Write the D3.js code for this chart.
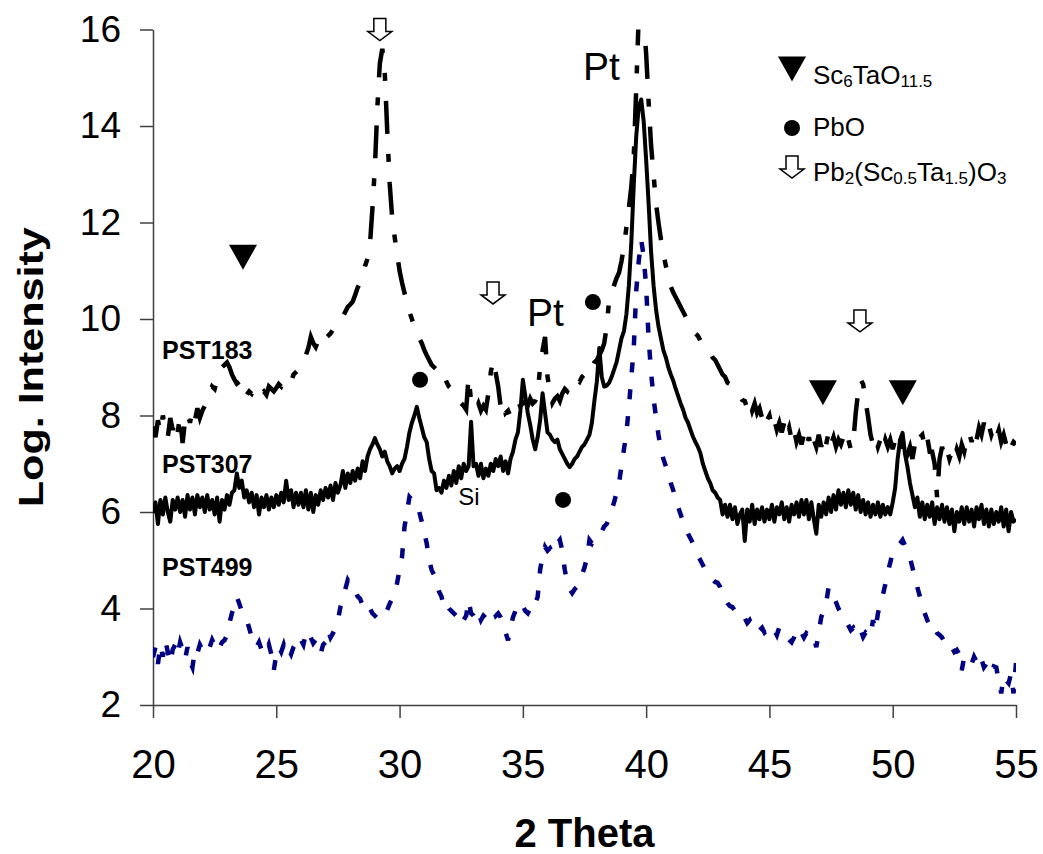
<!DOCTYPE html>
<html>
<head>
<meta charset="utf-8">
<script src="https://cdn.jsdelivr.net/npm/d3@7"></script>
<style>
  html, body { margin: 0; padding: 0; background: #fff; }
  svg { display: block; font-family: "Liberation Sans", Arial, Helvetica, sans-serif; }
</style>
</head>
<body>
<svg id="chart" width="1043" height="854"></svg>
<script>
// XRD scans, log intensity sampled every 0.1 degree from 20.0 to 55.0 (2-theta)
const startAngle = 20;
const angleStep = 0.1;

const pst183 = [
  7.77, 7.55, 7.90, 7.65, 8.00, 7.75, 7.55, 7.95, 7.70, 7.90,
  7.65, 8.00, 7.43, 7.90, 8.05, 7.85, 8.10, 7.90, 8.15, 7.95,
  8.10, 8.20, 8.35, 8.45, 8.60, 8.55, 8.75, 8.85, 9.00, 9.05,
  9.10, 9.00, 8.85, 8.75, 8.66, 8.70, 8.55, 8.60, 8.43, 8.50,
  8.45, 8.55, 8.60, 8.57, 8.45, 8.50, 8.43, 8.60, 8.55, 8.50,
  8.57, 8.65, 8.60, 8.70, 8.75, 8.78, 8.70, 8.85, 8.90, 8.95,
  8.99, 9.10, 9.25, 9.40, 9.63, 9.50, 9.42, 9.55, 9.45, 9.50,
  9.60, 9.65, 9.70, 9.78, 9.85, 9.90, 9.94, 10.05, 10.15, 10.25,
  10.30, 10.36, 10.50, 10.65, 10.75, 10.90, 11.10, 11.25, 11.55, 12.30,
  13.15, 14.40, 15.30, 15.60, 15.10, 13.90, 12.80, 12.10, 11.70, 11.35,
  11.00, 10.75, 10.54, 10.35, 10.15, 10.00, 9.84, 9.75, 9.60, 9.50,
  9.36, 9.25, 9.15, 9.05, 9.00, 8.95, 8.90, 8.80, 8.85, 8.70,
  8.60, 8.55, 8.45, 8.40, 8.30, 8.25, 8.20, 8.12, 8.80, 8.30,
  8.20, 8.12, 8.25, 8.10, 8.20, 8.12, 8.45, 8.90, 9.15, 8.88,
  8.60, 8.18, 8.30, 8.05, 8.10, 7.97, 8.10, 8.05, 8.18, 8.20,
  8.25, 8.30, 8.20, 8.35, 8.25, 8.30, 8.45, 9.00, 9.35, 9.63,
  8.80, 8.50, 8.26, 8.35, 8.40, 8.30, 8.46, 8.55, 8.50, 8.60,
  8.68, 8.65, 8.75, 8.70, 8.80, 8.85, 8.90, 8.85, 9.00, 9.10,
  9.15, 9.25, 9.35, 9.50, 9.84, 10.40, 10.55, 10.70, 10.85, 10.96,
  11.20, 11.50, 11.90, 12.30, 12.75, 13.40, 14.80, 16.30, 16.50, 16.20,
  15.50, 14.50, 13.60, 13.00, 12.40, 12.00, 11.65, 11.35, 11.10, 10.90,
  10.67, 10.55, 10.45, 10.35, 10.25, 10.15, 10.05, 9.95, 9.85, 9.78,
  9.70, 9.65, 9.55, 9.50, 9.45, 9.36, 9.30, 9.20, 9.15, 9.05,
  8.95, 8.85, 8.80, 8.68, 8.65, 8.60, 8.50, 8.45, 8.40, 8.32,
  8.30, 8.15, 8.30, 8.10, 8.25, 8.05, 8.15, 7.95, 8.10, 7.90,
  8.00, 7.75, 7.90, 7.70, 7.85, 7.65, 7.85, 7.60, 7.75, 7.50,
  7.70, 7.45, 7.60, 7.40, 7.60, 7.35, 7.55, 7.30, 7.50, 7.35,
  7.60, 7.35, 7.60, 7.40, 7.65, 7.40, 7.55, 7.35, 7.50, 7.40,
  7.55, 7.35, 7.50, 7.30, 7.45, 8.05, 8.50, 8.74, 8.65, 8.30,
  7.97, 7.60, 7.40, 7.55, 7.35, 7.50, 7.30, 7.50, 7.35, 7.50,
  7.30, 7.50, 7.30, 7.45, 7.25, 7.40, 7.20, 7.35, 7.10, 7.40,
  7.30, 7.55, 7.60, 7.35, 7.55, 7.25, 7.25, 7.00, 6.31, 7.10,
  7.35, 7.15, 7.30, 7.10, 7.25, 7.10, 7.30, 7.15, 7.40, 7.25,
  7.50, 7.64, 7.45, 7.70, 7.50, 7.75, 7.60, 7.85, 7.65, 7.80,
  7.60, 7.75, 7.55, 7.70, 7.45, 7.60, 7.40, 7.55, 7.35, 7.45,
  7.40
];

const pst307 = [
  5.98, 6.20, 5.75, 6.25, 5.95, 6.30, 6.00, 5.80, 6.25, 6.05,
  6.30, 6.00, 6.25, 5.90, 6.35, 6.05, 6.30, 5.95, 6.35, 6.10,
  6.30, 6.00, 6.35, 6.05, 6.25, 5.95, 6.30, 5.80, 6.25, 6.05,
  6.35, 6.15, 6.40, 6.45, 6.80, 6.50, 6.65, 6.30, 6.45, 6.20,
  6.40, 6.10, 6.35, 5.95, 6.30, 6.10, 6.35, 6.05, 6.30, 6.10,
  6.35, 6.15, 6.40, 6.20, 6.65, 6.25, 6.45, 6.10, 6.40, 6.15,
  6.40, 6.10, 6.45, 6.05, 6.40, 6.00, 6.35, 6.15, 6.45, 6.25,
  6.50, 6.30, 6.55, 6.25, 6.60, 6.40, 6.55, 6.85, 6.50, 6.80,
  6.60, 6.85, 6.65, 6.90, 6.70, 7.05, 6.85, 7.15, 7.30, 7.40,
  7.53, 7.40, 7.30, 7.15, 7.25, 7.05, 6.95, 6.80, 6.90, 6.95,
  6.85, 7.00, 7.10, 7.35, 7.65, 7.85, 8.00, 8.18, 7.95, 7.75,
  7.55, 7.45, 7.10, 6.85, 6.80, 6.45, 6.50, 6.40, 6.65, 6.50,
  6.75, 6.55, 6.85, 6.60, 6.95, 6.70, 7.00, 6.85, 6.95, 7.87,
  6.95, 7.00, 6.75, 7.00, 6.70, 6.90, 6.75, 7.00, 6.85, 7.10,
  6.95, 7.15, 6.85, 7.05, 6.80, 7.10, 7.25, 7.50, 7.65, 8.10,
  8.74, 8.40, 8.05, 7.80, 7.50, 7.30, 7.55, 7.90, 8.46, 8.05,
  7.65, 7.60, 7.50, 7.45, 7.50, 7.30, 7.20, 7.10, 7.00, 6.93,
  7.00, 7.10, 7.15, 7.25, 7.35, 7.40, 7.50, 7.60, 7.85, 8.30,
  8.70, 9.40, 8.80, 8.60, 8.62, 8.68, 8.80, 8.95, 9.10, 9.35,
  9.60, 9.75, 10.10, 10.70, 11.60, 12.80, 13.80, 14.40, 14.55, 14.10,
  13.30, 12.40, 11.40, 10.70, 10.20, 9.85, 9.60, 9.35, 9.20, 9.00,
  8.85, 8.72, 8.55, 8.40, 8.25, 8.12, 7.95, 7.85, 7.70, 7.56,
  7.45, 7.35, 7.22, 7.00, 6.85, 6.70, 6.60, 6.45, 6.40, 6.30,
  6.25, 5.95, 6.15, 5.90, 6.15, 5.85, 6.10, 5.75, 5.95, 6.05,
  5.40, 6.05, 5.80, 6.15, 5.75, 6.05, 5.85, 6.10, 5.80, 6.05,
  5.85, 6.15, 5.80, 6.10, 5.95, 6.20, 5.85, 6.10, 5.80, 6.15,
  5.95, 6.20, 5.90, 6.25, 5.95, 6.25, 5.85, 6.20, 5.85, 5.55,
  6.15, 5.90, 6.20, 5.95, 6.30, 6.00, 6.35, 6.05, 6.45, 6.15,
  6.40, 6.10, 6.45, 6.15, 6.40, 6.05, 6.35, 6.00, 6.25, 5.95,
  6.20, 5.90, 6.15, 5.95, 6.20, 5.90, 6.15, 5.95, 6.10, 5.95,
  6.20, 6.50, 7.10, 7.50, 7.64, 7.20, 6.93, 6.60, 6.35, 6.10,
  6.30, 5.90, 6.20, 5.85, 6.15, 5.90, 6.20, 5.75, 6.10, 5.85,
  6.15, 5.80, 6.10, 5.75, 6.05, 5.60, 6.00, 5.80, 6.10, 5.75,
  6.10, 5.80, 6.05, 5.70, 6.10, 5.85, 6.15, 5.75, 6.05, 5.70,
  6.05, 5.75, 6.00, 5.80, 6.10, 5.70, 6.05, 5.60, 6.00, 5.80,
  5.85
];

const pst499 = [
  2.99, 3.20, 2.85, 3.25, 3.00, 3.34, 3.10, 2.87, 3.15, 3.25,
  3.05, 3.30, 3.15, 2.95, 3.20, 2.90, 2.78, 3.15, 3.07, 3.25,
  3.15, 3.25, 3.30, 3.20, 3.35, 3.25, 3.34, 3.20, 3.30, 3.34,
  3.45, 3.70, 3.90, 4.05, 4.24, 4.10, 3.95, 3.85, 3.76, 3.60,
  3.41, 3.35, 3.20, 3.30, 3.15, 3.20, 3.10, 3.25, 3.05, 2.72,
  3.05, 3.20, 3.10, 3.25, 3.07, 3.15, 3.05, 3.20, 3.28, 3.20,
  3.35, 3.25, 3.49, 3.35, 3.40, 3.28, 3.35, 3.20, 3.07, 3.25,
  3.30, 3.55, 3.40, 3.49, 3.60, 3.75, 4.03, 4.20, 4.40, 4.59,
  4.50, 4.40, 4.38, 4.25, 4.20, 4.07, 4.15, 4.05, 4.00, 3.90,
  3.85, 3.80, 3.76, 3.85, 3.90, 3.97, 4.10, 4.20, 4.32, 4.53,
  4.80, 5.07, 5.69, 6.00, 6.31, 6.25, 6.20, 6.19, 6.00, 5.80,
  5.58, 5.35, 5.00, 4.80, 4.70, 4.55, 4.35, 4.25, 4.03, 4.10,
  4.00, 3.95, 3.90, 3.85, 3.80, 3.90, 3.76, 3.85, 4.17, 3.90,
  3.85, 3.76, 3.90, 3.76, 3.85, 3.80, 3.90, 3.95, 3.97, 3.85,
  3.90, 3.82, 3.70, 3.50, 3.34, 3.60, 3.82, 3.95, 4.05, 4.13,
  4.05, 3.95, 3.90, 4.00, 3.95, 4.10, 4.24, 4.80, 5.10, 5.28,
  5.20, 5.25, 5.15, 5.30, 5.35, 5.42, 5.20, 4.80, 4.55, 4.40,
  4.32, 4.40, 4.45, 4.53, 4.70, 4.85, 5.05, 5.42, 5.35, 5.45,
  5.50, 5.56, 5.60, 5.70, 5.75, 5.88, 6.05, 6.20, 6.40, 6.60,
  6.95, 7.30, 7.64, 8.18, 8.80, 9.42, 10.60, 11.20, 11.64, 11.30,
  10.67, 9.60, 8.90, 8.35, 7.97, 7.60, 7.30, 7.10, 6.95, 6.80,
  6.60, 6.45, 6.25, 6.10, 5.95, 5.80, 5.67, 5.55, 5.45, 5.35,
  5.21, 5.10, 5.00, 4.90, 4.80, 4.76, 4.70, 4.60, 4.55, 4.53,
  4.45, 4.30, 4.20, 4.11, 4.05, 4.03, 3.95, 3.90, 3.85, 3.76,
  3.80, 3.70, 3.76, 3.65, 3.70, 3.60, 3.55, 3.60, 3.50, 3.55,
  3.45, 3.49, 3.55, 3.45, 3.61, 3.50, 3.45, 3.40, 3.35, 3.30,
  3.40, 3.55, 3.45, 3.50, 3.40, 3.49, 3.45, 3.35, 3.40, 3.20,
  3.50, 3.82, 3.95, 4.11, 4.44, 4.30, 4.25, 4.13, 4.00, 3.90,
  3.85, 3.75, 3.65, 3.55, 3.60, 3.50, 3.61, 3.55, 3.41, 3.50,
  3.45, 3.41, 3.76, 3.55, 3.90, 4.10, 4.28, 4.50, 4.76, 4.95,
  5.17, 5.25, 5.30, 5.35, 5.42, 5.30, 5.20, 5.05, 4.85, 4.65,
  4.44, 4.25, 4.05, 3.90, 3.76, 3.65, 3.55, 3.60, 3.49, 3.45,
  3.40, 3.30, 3.34, 3.25, 3.20, 3.10, 3.14, 3.05, 2.72, 3.00,
  3.00, 2.95, 2.85, 3.00, 2.90, 2.80, 2.95, 2.78, 2.85, 2.70,
  2.66, 2.80, 2.78, 2.50, 2.24, 2.60, 2.51, 2.45, 2.65, 2.24,
  2.87
];

const xTicks = [20, 25, 30, 35, 40, 45, 50, 55];
const yTicks = [2, 4, 6, 8, 10, 12, 14, 16];

const seriesNames = ["PST183", "PST307", "PST499"];
const seriesLabelAt = [[20.37, 9.17], [20.37, 6.81], [20.37, 4.67]];

// phase markers placed above the reflections (2-theta, log intensity)
const sc6TaMarks = [[23.65, 11.28], [47.17, 8.47], [50.41, 8.47]];
const pboMarks = [[30.83, 8.74], [37.84, 10.35], [36.63, 6.25]];
const pyroMarks = [[29.2, 16.0], [33.79, 10.54], [48.67, 9.96]];
const peakLabels = ["Pt", "Pt", "Si"];
const peakLabelAt = [[38.19, 14.95], [35.92, 9.86], [32.81, 6.15]];

// ---------------------------------------------------------------------------
const svg = d3.select("#chart");
const plot = { left: 153, right: 1016, top: 29.5, bottom: 705 };

const x = d3.scaleLinear().domain([20, 55]).range([plot.left, plot.right]);
const y = d3.scaleLinear().domain([2, 16]).range([plot.bottom, plot.top]);

const angles = pst307.map((_, i) => +(startAngle + i * angleStep).toFixed(1));

svg.append("defs").append("clipPath").attr("id", "plot-clip")
  .append("rect")
  .attr("x", plot.left).attr("y", plot.top)
  .attr("width", plot.right - plot.left).attr("height", plot.bottom - plot.top);

// axes
const axisColor = "#404040";
const yAxis = svg.append("g")
  .attr("transform", `translate(${plot.left},0)`)
  .call(d3.axisLeft(y).tickValues(yTicks).tickSize(13).tickSizeOuter(0).tickPadding(19));
const xAxis = svg.append("g")
  .attr("transform", `translate(0,${plot.bottom})`)
  .call(d3.axisBottom(x).tickValues(xTicks).tickSize(13).tickSizeOuter(0).tickPadding(32));

[yAxis, xAxis].forEach(g => {
  g.select(".domain").attr("stroke", axisColor).attr("stroke-width", 1.5);
  g.selectAll(".tick line").attr("stroke", axisColor).attr("stroke-width", 1.5);
  g.selectAll(".tick text").attr("fill", "#000").attr("font-family", null);
});
yAxis.selectAll(".tick text").attr("font-size", 37);
xAxis.selectAll(".tick text").attr("font-size", 40);

// axis titles
svg.append("text")
  .attr("x", (plot.left + plot.right) / 2).attr("y", 847)
  .attr("text-anchor", "middle").attr("font-weight", "bold").attr("font-size", 40)
  .text("2 Theta");

svg.append("text")
  .attr("transform", `translate(43,${(plot.top + plot.bottom) / 2}) rotate(-90)`)
  .attr("text-anchor", "middle").attr("font-weight", "bold").attr("font-size", 35)
  .attr("textLength", 280).attr("lengthAdjust", "spacingAndGlyphs")
  .text("Log. Intensity");

// scans
const line = d3.line().x((d, i) => x(angles[i])).y(d => y(d));
const curves = svg.append("g").attr("clip-path", "url(#plot-clip)");

curves.append("path").datum(pst499)
  .attr("d", line).attr("fill", "none")
  .attr("stroke", "#000080").attr("stroke-width", 4.5)
  .attr("stroke-dasharray", "10,17");

curves.append("path").datum(pst183)
  .attr("d", line).attr("fill", "none")
  .attr("stroke", "#000").attr("stroke-width", 4.5)
  .attr("stroke-dasharray", "33,20,8,20");

curves.append("path").datum(pst307)
  .attr("d", line).attr("fill", "none")
  .attr("stroke", "#000").attr("stroke-width", 4)
  .attr("stroke-linejoin", "round");

// series names
svg.append("g").selectAll("text").data(seriesNames).join("text")
  .attr("x", (d, i) => x(seriesLabelAt[i][0]))
  .attr("y", (d, i) => y(seriesLabelAt[i][1]))
  .attr("font-weight", "bold").attr("font-size", 25)
  .text(d => d);

// marker shapes
const triPath = (cx, cy) => `M${cx - 14},${cy - 12.5}L${cx + 14},${cy - 12.5}L${cx},${cy + 12.5}Z`;
const arrowPath = (cx, cy) => {
  const top = cy - 11, mid = cy + 2, bot = cy + 11;
  return `M${cx - 6},${top}L${cx + 6},${top}L${cx + 6},${mid}L${cx + 12},${mid}L${cx},${bot}` +
         `L${cx - 12},${mid}L${cx - 6},${mid}Z`;
};

const marks = svg.append("g");
marks.selectAll("path.tri").data(sc6TaMarks).join("path").attr("class", "tri")
  .attr("d", d => triPath(x(d[0]), y(d[1]))).attr("fill", "#000");
marks.selectAll("circle").data(pboMarks).join("circle")
  .attr("cx", d => x(d[0])).attr("cy", d => y(d[1])).attr("r", 8).attr("fill", "#000");
marks.selectAll("path.arrow").data(pyroMarks).join("path").attr("class", "arrow")
  .attr("d", d => arrowPath(x(d[0]), y(d[1])))
  .attr("fill", "#fff").attr("stroke", "#000").attr("stroke-width", 1.5);

svg.append("g").selectAll("text").data(peakLabels).join("text")
  .attr("x", (d, i) => x(peakLabelAt[i][0]))
  .attr("y", (d, i) => y(peakLabelAt[i][1]))
  .attr("text-anchor", "middle")
  .attr("font-size", d => d === "Si" ? 24 : 39)
  .text(d => d);

// legend of phases
const legend = svg.append("g");
const legendX = 792, legendTextX = 813;
legend.append("path").attr("d", triPath(legendX, 69)).attr("fill", "#000");
legend.append("circle").attr("cx", legendX).attr("cy", 128).attr("r", 8).attr("fill", "#000");
legend.append("path").attr("d", arrowPath(legendX, 167))
  .attr("fill", "#fff").attr("stroke", "#000").attr("stroke-width", 1.5);

function formula(yBase, parts) {
  const t = legend.append("text").attr("x", legendTextX).attr("y", yBase).attr("font-size", 26);
  parts.forEach(([s, sub]) => {
    t.append("tspan").attr("font-size", sub ? 17 : 26)
      .attr("baseline-shift", sub ? "-20%" : null)
      .text(s);
  });
}
formula(84, [["Sc", 0], ["6", 1], ["TaO", 0], ["11.5", 1]]);
formula(136, [["PbO", 0]]);
formula(181, [["Pb", 0], ["2", 1], ["(Sc", 0], ["0.5", 1], ["Ta", 0], ["1.5", 1], [")O", 0], ["3", 1]]);
</script>
</body>
</html>
